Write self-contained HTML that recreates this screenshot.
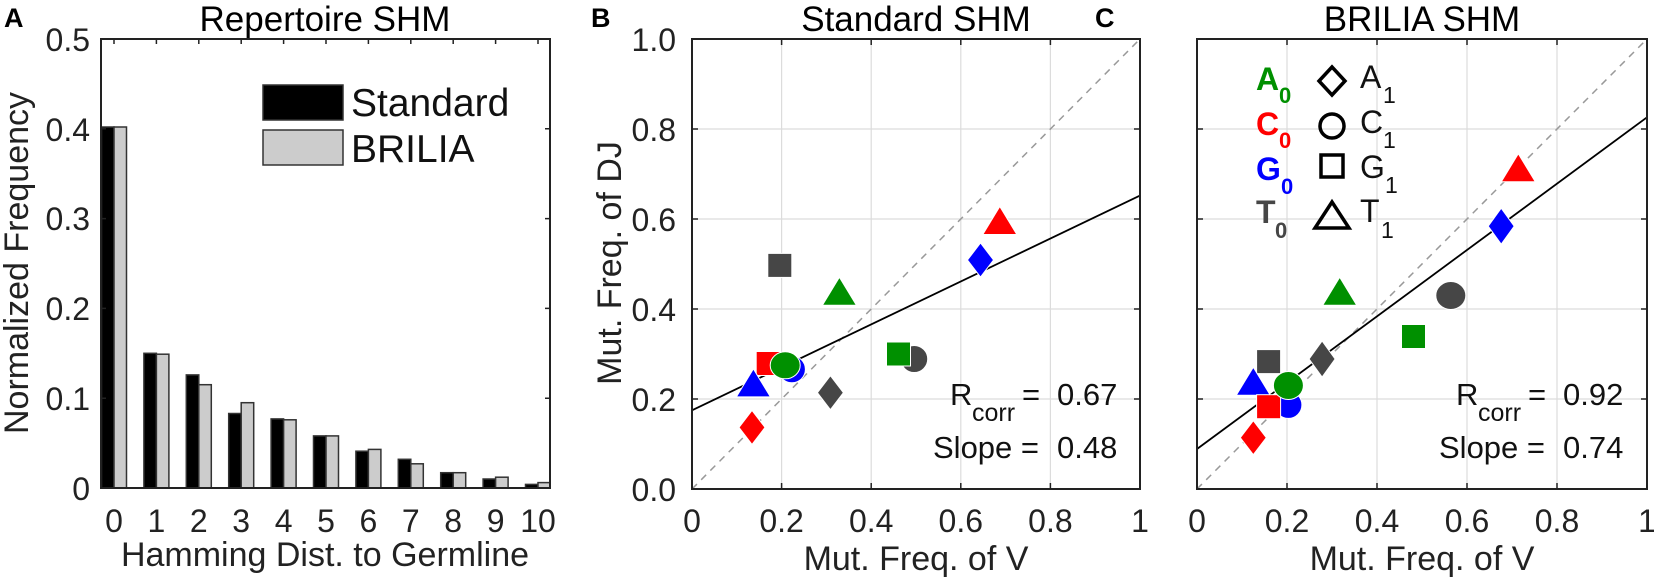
<!DOCTYPE html>
<html><head><meta charset="utf-8"><style>
html,body{margin:0;padding:0;background:#fff;}
svg{display:block;font-family:"Liberation Sans",Arial,sans-serif;}
</style></head><body>
<svg width="1654" height="587" viewBox="0 0 1654 587" xmlns="http://www.w3.org/2000/svg">
<!-- PANEL A -->
<text x="4" y="27" font-size="27" font-weight="bold">A</text>
<text x="325" y="31" font-size="35" text-anchor="middle">Repertoire SHM</text>
<g stroke="#333" stroke-width="1.5">
<rect x="101.5" y="127" width="12.5" height="361" fill="#000"/><rect x="114" y="127" width="12.5" height="361" fill="#ccc"/>
<rect x="143.9" y="353.3" width="12.5" height="134.7" fill="#000"/><rect x="156.4" y="354.2" width="12.5" height="133.8" fill="#ccc"/>
<rect x="186.3" y="374.9" width="12.5" height="113.1" fill="#000"/><rect x="198.8" y="384.7" width="12.5" height="103.3" fill="#ccc"/>
<rect x="228.7" y="413.5" width="12.5" height="74.5" fill="#000"/><rect x="241.2" y="402.7" width="12.5" height="85.3" fill="#ccc"/>
<rect x="271.1" y="418.9" width="12.5" height="69.1" fill="#000"/><rect x="283.6" y="419.8" width="12.5" height="68.2" fill="#ccc"/>
<rect x="313.5" y="435.9" width="12.5" height="52.1" fill="#000"/><rect x="326" y="435.9" width="12.5" height="52.1" fill="#ccc"/>
<rect x="355.9" y="451.2" width="12.5" height="36.8" fill="#000"/><rect x="368.4" y="449.4" width="12.5" height="38.6" fill="#ccc"/>
<rect x="398.3" y="459.3" width="12.5" height="28.7" fill="#000"/><rect x="410.8" y="463.8" width="12.5" height="24.2" fill="#ccc"/>
<rect x="440.7" y="472.7" width="12.5" height="15.3" fill="#000"/><rect x="453.2" y="472.7" width="12.5" height="15.3" fill="#ccc"/>
<rect x="483.1" y="479" width="12.5" height="9" fill="#000"/><rect x="495.6" y="477.2" width="12.5" height="10.8" fill="#ccc"/>
<rect x="525.5" y="484.4" width="12.5" height="3.6" fill="#000"/><rect x="538" y="482.6" width="12" height="5.4" fill="#ccc"/>
</g>
<rect x="101" y="39" width="449" height="449" fill="none" stroke="#222" stroke-width="2"/>
<g stroke="#222" stroke-width="1.5">
<path d="M101 398.2h5M101 308.4h5M101 218.6h5M101 128.8h5M550 398.2h-5M550 308.4h-5M550 218.6h-5M550 128.8h-5"/>
<path d="M114 39v5M156.4 39v5M198.8 39v5M241.2 39v5M283.6 39v5M326 39v5M368.4 39v5M410.8 39v5M453.2 39v5M495.6 39v5M538 39v5"/>
</g>
<g font-size="32" fill="#222" text-anchor="end">
<text x="90" y="500">0</text><text x="90" y="410">0.1</text><text x="90" y="320">0.2</text><text x="90" y="230">0.3</text><text x="90" y="141">0.4</text><text x="90" y="51">0.5</text>
</g>
<g font-size="32" fill="#222" text-anchor="middle">
<text x="114" y="532">0</text><text x="156.4" y="532">1</text><text x="198.8" y="532">2</text><text x="241.2" y="532">3</text><text x="283.6" y="532">4</text><text x="326" y="532">5</text><text x="368.4" y="532">6</text><text x="410.8" y="532">7</text><text x="453.2" y="532">8</text><text x="495.6" y="532">9</text><text x="538" y="532">10</text>
</g>
<text x="325" y="566" font-size="34" fill="#222" text-anchor="middle">Hamming Dist. to Germline</text>
<text transform="translate(28,263) rotate(-90)" font-size="34" fill="#222" text-anchor="middle">Normalized Frequency</text>
<rect x="263" y="85" width="80" height="35" fill="#000" stroke="#333" stroke-width="1.5"/>
<rect x="263" y="130" width="80" height="35" fill="#ccc" stroke="#333" stroke-width="1.5"/>
<text x="351" y="116" font-size="39" fill="#111">Standard</text>
<text x="351" y="162" font-size="39" fill="#111">BRILIA</text>

<!-- PANEL B -->
<text x="591" y="27" font-size="27" font-weight="bold">B</text>
<text x="916" y="31" font-size="35" text-anchor="middle">Standard SHM</text>
<g stroke="#dcdcdc" stroke-width="1.2">
<path d="M781.6 39V489M871.2 39V489M960.8 39V489M1050.4 39V489M692 399H1140M692 309H1140M692 219H1140M692 129H1140"/>
</g>
<line x1="692" y1="489" x2="1140" y2="39" stroke="#999" stroke-width="1.5" stroke-dasharray="7,6"/>
<line x1="692" y1="410.3" x2="1140" y2="195.6" stroke="#000" stroke-width="1.8"/>
<g stroke="#fff" stroke-width="1">
<rect x="767.8" y="253.4" width="24" height="24" fill="#464646"/>
<polygon points="839.4,277.2 822.4,305.2 856.4,305.2" fill="#009000"/>
<polygon points="999.8,206.5 982.8,234.5 1016.8,234.5" fill="#ff0000"/>
<polygon points="980.5,243 993.5,260 980.5,277 967.5,260" fill="#0000ff"/>
<circle cx="914.2" cy="359" r="13.5" fill="#464646"/>
<rect x="886.5" y="342" width="24" height="24" fill="#009000"/>
<rect x="756.2" y="351.5" width="24" height="24" fill="#ff0000"/>
<circle cx="791.9" cy="369.3" r="13.5" fill="#0000ff"/>
<ellipse cx="785.2" cy="365.3" rx="15" ry="13.5" fill="#009000"/>
<polygon points="753.4,368.9 736.4,396.9 770.4,396.9" fill="#0000ff"/>
<polygon points="830.4,375.7 843.4,392.7 830.4,409.7 817.4,392.7" fill="#464646"/>
<polygon points="752,410.4 765,427.4 752,444.4 739,427.4" fill="#ff0000"/>
</g>
<rect x="692" y="39" width="448" height="450" fill="none" stroke="#222" stroke-width="2"/>
<g stroke="#222" stroke-width="1.5">
<path d="M692 399h6M692 309h6M692 219h6M692 129h6M1140 399h-6M1140 309h-6M1140 219h-6M1140 129h-6"/>
<path d="M781.6 39v6M871.2 39v6M960.8 39v6M1050.4 39v6M781.6 489v-6M871.2 489v-6M960.8 489v-6M1050.4 489v-6"/>
</g>
<g font-size="32" fill="#222" text-anchor="end">
<text x="676" y="501">0.0</text><text x="676" y="411">0.2</text><text x="676" y="321">0.4</text><text x="676" y="231">0.6</text><text x="676" y="141">0.8</text><text x="676" y="51">1.0</text>
</g>
<g font-size="32" fill="#222" text-anchor="middle">
<text x="692" y="532">0</text><text x="781.6" y="532">0.2</text><text x="871.2" y="532">0.4</text><text x="960.8" y="532">0.6</text><text x="1050.4" y="532">0.8</text><text x="1140" y="532">1</text>
</g>
<text x="916" y="570" font-size="34" fill="#222" text-anchor="middle">Mut. Freq. of V</text>
<text transform="translate(621,263) rotate(-90)" font-size="34" fill="#222" text-anchor="middle">Mut. Freq. of DJ</text>
<g font-size="31" fill="#111">
<text x="950" y="405">R</text><text x="972" y="421" font-size="25">corr</text>
<text x="1022" y="405">=</text><text x="1057" y="405">0.67</text>
<text x="933" y="458">Slope =</text><text x="1057" y="458">0.48</text>
</g>

<!-- PANEL C -->
<text x="1095" y="27" font-size="27" font-weight="bold">C</text>
<text x="1422" y="31" font-size="35" text-anchor="middle">BRILIA SHM</text>
<g stroke="#dcdcdc" stroke-width="1.2">
<path d="M1287 39V489M1377 39V489M1467 39V489M1557 39V489M1197 399H1647M1197 309H1647M1197 219H1647M1197 129H1647"/>
</g>
<line x1="1197" y1="489" x2="1647" y2="39" stroke="#999" stroke-width="1.5" stroke-dasharray="7,6"/>
<line x1="1197" y1="449" x2="1647" y2="117.3" stroke="#000" stroke-width="1.8"/>
<g stroke="#fff" stroke-width="1">
<polygon points="1518.3,153.8 1501.3,181.8 1535.3,181.8" fill="#ff0000"/>
<polygon points="1501.2,208.2 1514.2,226.2 1501.2,244.2 1488.2,226.2" fill="#0000ff"/>
<ellipse cx="1450.8" cy="295.5" rx="15" ry="14" fill="#464646"/>
<rect x="1401.5" y="324.5" width="24" height="24" fill="#009000"/>
<polygon points="1339.7,277.2 1322.7,305.2 1356.7,305.2" fill="#009000"/>
<polygon points="1322.1,341 1335.1,359 1322.1,377 1309.1,359" fill="#464646"/>
<rect x="1256.6" y="349.6" width="24" height="24" fill="#464646"/>
<polygon points="1253.3,367.2 1236.3,395.2 1270.3,395.2" fill="#0000ff"/>
<circle cx="1288.4" cy="404.9" r="13.5" fill="#0000ff"/>
<rect x="1256.6" y="394.7" width="24" height="24" fill="#ff0000"/>
<ellipse cx="1288.4" cy="385.5" rx="15" ry="14" fill="#009000"/>
<polygon points="1253.3,420.7 1266.3,437.7 1253.3,454.7 1240.3,437.7" fill="#ff0000"/>
</g>
<rect x="1197" y="39" width="450" height="450" fill="none" stroke="#222" stroke-width="2"/>
<g stroke="#222" stroke-width="1.5">
<path d="M1197 399h6M1197 309h6M1197 219h6M1197 129h6M1647 399h-6M1647 309h-6M1647 219h-6M1647 129h-6"/>
<path d="M1287 39v6M1377 39v6M1467 39v6M1557 39v6M1287 489v-6M1377 489v-6M1467 489v-6M1557 489v-6"/>
</g>
<g font-size="32" fill="#222" text-anchor="middle">
<text x="1197" y="532">0</text><text x="1287" y="532">0.2</text><text x="1377" y="532">0.4</text><text x="1467" y="532">0.6</text><text x="1557" y="532">0.8</text><text x="1647" y="532">1</text>
</g>
<text x="1422" y="570" font-size="34" fill="#222" text-anchor="middle">Mut. Freq. of V</text>
<g font-size="31" fill="#111">
<text x="1456" y="405">R</text><text x="1478" y="421" font-size="25">corr</text>
<text x="1528" y="405">=</text><text x="1563" y="405">0.92</text>
<text x="1439" y="458">Slope =</text><text x="1563" y="458">0.74</text>
</g>
<!-- legend C -->
<g font-size="32" font-weight="bold">
<text x="1256" y="90" fill="#009000">A</text><text x="1279" y="103" font-size="22" fill="#009000">0</text>
<text x="1256" y="135" fill="#ff0000">C</text><text x="1279" y="148" font-size="22" fill="#ff0000">0</text>
<text x="1256" y="180" fill="#0000ff">G</text><text x="1281" y="194" font-size="22" fill="#0000ff">0</text>
<text x="1256" y="223" fill="#464646">T</text><text x="1275" y="238" font-size="22" fill="#464646">0</text>
</g>
<g fill="none" stroke="#000" stroke-width="3.5">
<polygon points="1332,67 1345,81 1332,95 1319,81"/>
<circle cx="1332" cy="126" r="12"/>
<rect x="1321" y="155" width="22" height="22"/>
<polygon points="1332,202 1315,228 1349,228"/>
</g>
<g font-size="32" fill="#111">
<text x="1360" y="88">A</text><text x="1383" y="103" font-size="23">1</text>
<text x="1360" y="133">C</text><text x="1383" y="148" font-size="23">1</text>
<text x="1360" y="178">G</text><text x="1385" y="193" font-size="23">1</text>
<text x="1360" y="222">T</text><text x="1381" y="238" font-size="23">1</text>
</g>
</svg>
</body></html>
